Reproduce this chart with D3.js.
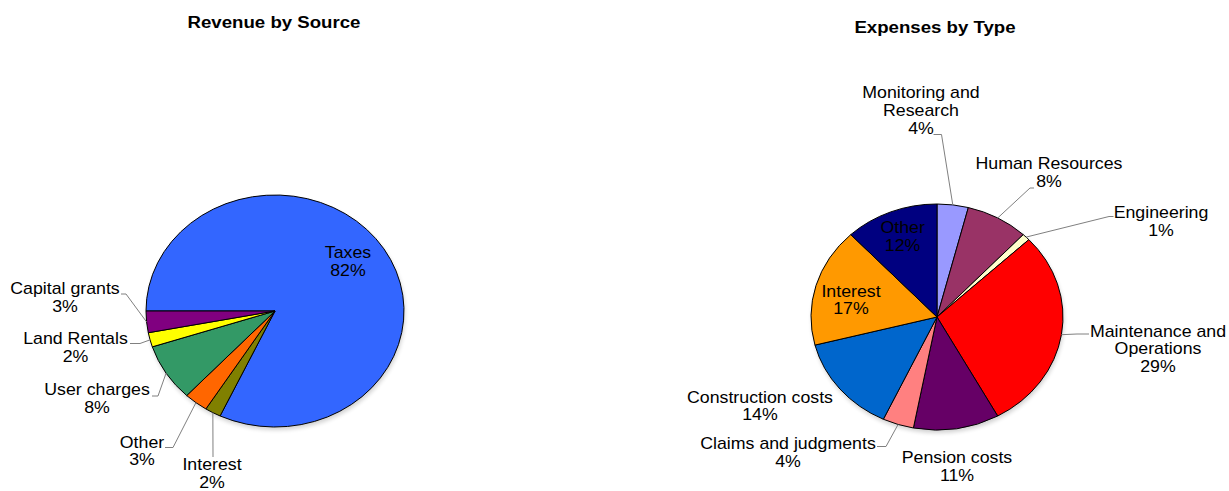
<!DOCTYPE html>
<html>
<head>
<meta charset="utf-8">
<script src="https://cdn.jsdelivr.net/npm/d3@7"></script>
<style>
body { margin: 0; background: #fff; }
text { font-family: "Liberation Sans", Arial, sans-serif; fill: #000; }
</style>
</head>
<body>
<script>
// Revenue data
var revenueNames = ["Taxes", "Interest", "Other", "User charges", "Land Rentals", "Capital grants"];
var revenueValues = [82, 2, 3, 8, 2, 3];
var revenueColors = ["#3366ff", "#808000", "#ff6600", "#339966", "#ffff00", "#800080"];

// Expense data
var expenseNames = ["Monitoring and\nResearch", "Human Resources", "Engineering", "Maintenance and\nOperations",
  "Pension costs", "Claims and judgments", "Construction costs", "Interest", "Other"];
var expenseValues = [4, 8, 1, 29, 11, 4, 14, 17, 12];
var expenseColors = ["#9999ff", "#993366", "#ffffcc", "#ff0000", "#660066", "#ff8080", "#0066cc", "#ff9900", "#000080"];

var svgWidth = 1229;
var svgHeight = 491;
var stretch = 1.11;   // the original picture is stretched a bit sideways

var svg = d3.select("body")
  .append("svg")
  .attr("width", svgWidth)
  .attr("height", svgHeight);

// label placement: x = centre, y = first baseline, leader = points before the pie edge
var revenueLabels = [
  { x: 348, y: 258 },
  { x: 212, y: 470, leader: [[213, 457]] },
  { x: 142, y: 447.5, leader: [[165, 447.5], [173, 447.5]] },
  { x: 97, y: 395, leader: [[152, 396], [158, 396]] },
  { x: 75.5, y: 344, leader: [[130, 343.5], [140, 343.5]] },
  { x: 65, y: 294, leader: [[121, 294], [126, 294]] }
];

var expenseLabels = [
  { x: 921, y: 98.3, leader: [[933.5, 134.5], [941.5, 134.5]] },
  { x: 1049, y: 169.3, leader: [[1034, 188], [1030, 188]] },
  { x: 1161, y: 218.3, leader: [[1113.5, 216.5], [1109, 216.5]] },
  { x: 1158, y: 336.7, leader: [[1089, 334], [1077, 334]] },
  { x: 957, y: 463.3 },
  { x: 788, y: 449.3, leader: [[877, 446.5], [886, 446.5]] },
  { x: 760, y: 402.7 },
  { x: 851, y: 296.7 },
  { x: 902.6, y: 233.3 }
];

function drawTitle(x, y, txt) {
  svg.append("text")
    .attr("transform", `translate(${x}, ${y}) scale(${stretch}, 1)`)
    .attr("text-anchor", "middle")
    .style("font-size", "16.8px")
    .style("font-weight", "bold")
    .text(txt);
}

function drawPie(opts) {
  var data = opts.names.map(function(n, i) {
    return { name: n, value: opts.values[i], color: opts.colors[i], label: opts.labels[i] };
  });

  var pie = d3.pie()
    .sort(null)
    .value(d => d.value)
    .startAngle(opts.start)
    .endAngle(opts.start + 2 * Math.PI);

  var arcs = pie(data);
  var arc = d3.arc().innerRadius(0).outerRadius(opts.rx);

  // soft shadow under the pie
  svg.append("ellipse")
    .attr("cx", opts.cx + 1)
    .attr("cy", opts.cy + 3)
    .attr("rx", opts.rx)
    .attr("ry", opts.ry)
    .attr("fill", "#000")
    .attr("opacity", 0.18)
    .attr("filter", "url(#blur)");

  var pieGroup = svg.append("g")
    .attr("transform", `translate(${opts.cx}, ${opts.cy}) scale(1, ${opts.ry / opts.rx})`);

  pieGroup.selectAll("path")
    .data(arcs)
    .enter()
    .append("path")
    .attr("d", arc)
    .attr("fill", d => d.data.color)
    .attr("stroke", "#000")
    .attr("stroke-width", 1)
    .attr("vector-effect", "non-scaling-stroke");

  // point on the pie rim at an angle
  function rim(a) {
    return [opts.cx + opts.rx * Math.sin(a), opts.cy - opts.ry * Math.cos(a)];
  }

  var line = d3.line();

  arcs.forEach(function(d) {
    var lab = d.data.label;
    if (lab.leader) {
      var pts = lab.leader.concat([rim((d.startAngle + d.endAngle) / 2)]);
      svg.append("path")
        .attr("d", line(pts))
        .attr("fill", "none")
        .attr("stroke", "#808080")
        .attr("stroke-width", 1);
    }

    var lines = d.data.name.split("\n");
    lines.push(d.data.value + "%");

    var t = svg.append("text")
      .attr("transform", `translate(${lab.x}, ${lab.y}) scale(${stretch}, 1)`)
      .attr("text-anchor", "middle")
      .style("font-size", "16px");

    t.selectAll("tspan")
      .data(lines)
      .enter()
      .append("tspan")
      .attr("x", 0)
      .attr("y", (s, i) => i * 17.8)
      .text(s => s);
  });
}

var defs = svg.append("defs");
defs.append("filter")
  .attr("id", "blur")
  .attr("x", "-10%").attr("y", "-10%").attr("width", "120%").attr("height", "120%")
  .append("feGaussianBlur")
  .attr("stdDeviation", 2);

drawTitle(274, 28, "Revenue by Source");
drawTitle(935, 32.5, "Expenses by Type");

drawPie({
  names: revenueNames, values: revenueValues, colors: revenueColors, labels: revenueLabels,
  cx: 275, cy: 311, rx: 129, ry: 116, start: -Math.PI / 2
});

drawPie({
  names: expenseNames, values: expenseValues, colors: expenseColors, labels: expenseLabels,
  cx: 937, cy: 317, rx: 126, ry: 113, start: 0
});
</script>
</body>
</html>
